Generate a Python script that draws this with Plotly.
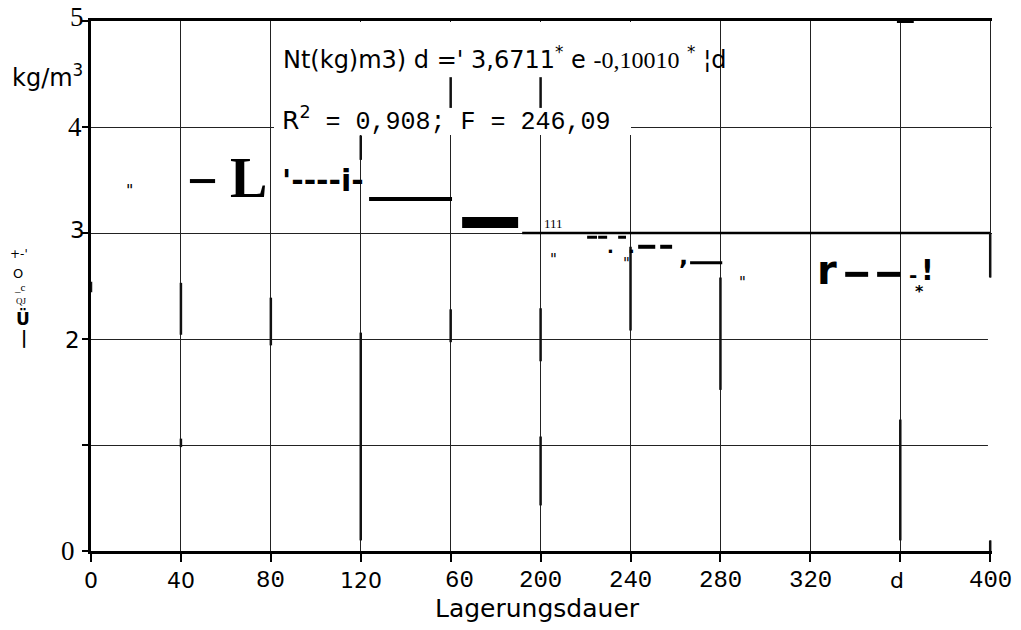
import plotly.graph_objects as go

# ---------------- data ----------------
x_ticks = [0, 40, 80, 120, 160, 200, 240, 280, 320, 360, 400]
x_tick_labels = ["0", "40", "80", "120", "60", "200", "240", "280", "320", "d", "400"]
x_tick_mono = [False, False, True, False, True, True, True, True, True, False, True]
y_ticks = [0, 1, 2, 3, 4, 5]
y_tick_labels = ["0", "", "2", "3", "4", "5"]
y_tick_serif = [True, False, False, False, True, True]

# horizontal pieces of the (scanned) fitted curve: days / kg per m3
bar_x0 = [44.0, 123.7, 165.1, 191.8, 220.7, 225.6, 234.5, 243.4, 253.2, 266.5, 335.5, 349.7, 358.5]
bar_x1 = [55.2, 160.6, 190.0, 400.0, 225.1, 229.6, 238.0, 251.0, 258.5, 280.8, 345.7, 360.0, 366.0]
bar_y = [3.49, 3.32, 3.10, 3.00, 2.96, 2.96, 2.96, 2.87, 2.87, 2.72, 2.61, 2.61, 5.00]
bar_w = [4, 4, 11, 2.5, 3, 3, 3, 4, 4, 3, 5, 5, 4]

# thicker vertical scan fragments on the grid lines
frag_x = [0, 40, 40, 80, 120, 120, 160, 160, 200, 200, 200, 240, 280, 360, 400, 400]
frag_y0 = [2.54, 2.53, 1.06, 2.39, 3.92, 2.06, 4.47, 2.28, 4.47, 2.29, 1.08, 2.87, 2.58, 1.24, 3.00, 0.10]
frag_y1 = [2.44, 2.04, 0.98, 1.94, 3.69, 0.10, 4.18, 1.97, 4.18, 1.79, 0.43, 2.08, 1.52, 0.10, 2.58, 0.00]

# ---------------- helpers ----------------
L, R, T, B = 91, 29, 21, 79
W, H = 1021, 630
X_MAX = 400.8
PW, PH = W - L - R, H - T - B
UX = PW / X_MAX


def px2x(px):
    return (px - L) / UX


def py2y(py):
    return (H - B - py) / PH * 5


SANS = "DejaVu Sans"
MONO = "Liberation Mono"
SERIF = "Liberation Serif"

fig = go.Figure()

for x0, x1, y, w in zip(bar_x0, bar_x1, bar_y, bar_w):
    fig.add_trace(go.Scatter(x=[x0, x1], y=[y, y], mode="lines",
                             line=dict(color="black", width=w),
                             showlegend=False, hoverinfo="skip"))

for x, y0, y1 in zip(frag_x, frag_y0, frag_y1):
    fig.add_trace(go.Scatter(x=[x, x], y=[y0, y1], mode="lines",
                             line=dict(color="#111", width=2.5),
                             showlegend=False, hoverinfo="skip"))

anns = []


def txt(text, px, py, size, family=SANS, anchor="center", color="black"):
    anns.append(dict(text=text, x=(px - L) / PW, y=(H - B - py) / PH,
                     xref="paper", yref="paper",
                     showarrow=False, xanchor=anchor, yanchor="middle",
                     font=dict(family=family, size=size, color=color)))


# tick labels
for v, lab, mono in zip(x_ticks, x_tick_labels, x_tick_mono):
    px = L + v * UX
    if lab == "60":
        px += 9
    if lab == "d":
        px -= 3
    txt(lab, px, 580, 24 if mono else 22, MONO if mono else SANS)

y_px = {0: 551, 2: 340, 3: 230, 4: 127, 5: 17}
y_cx = {0: 68, 2: 72, 3: 77, 4: 75, 5: 77}
for v, lab, serif in zip(y_ticks, y_tick_labels, y_tick_serif):
    if lab:
        txt(lab, y_cx[v], y_px[v], 27 if serif else 23, SERIF if serif else SANS)

# axis titles
txt("Lagerungsdauer", 537, 608, 25, SANS)
txt("kg/m<sup>3</sup>", 10, 76, 24, SANS, anchor="left")
txt("+-'", 19, 254, 12, SANS)
txt("O", 18, 273, 13, SANS)
txt("_c", 20, 287, 11, SERIF)
txt("QJ", 21, 301, 9, SERIF)
txt("<b>Ü</b>", 23, 318, 17, SANS)
txt("<b>|</b>", 24, 338, 17, SANS)

# regression text
txt("Nt(kg)m3) d =' 3,6711<sup>*</sup> e <span style='font-family:Liberation Serif'>-0,10010</span> "
    "<sup>*</sup> ¦d", 281, 58, 24, SANS, anchor="left")
txt("<span style='font-family:DejaVu Sans'>R<sup>2</sup></span> = 0,908; F = 246,09",
    280, 120, 25, MONO, anchor="left")

# scanned fragments of curve labels
txt('"', 129, 190, 16, SANS)
txt("<b>L</b>", 248, 178, 56, SERIF)
txt("<b>'----i-</b>", 280, 180, 30, SANS, anchor="left")
txt("111", 553, 223, 13, SERIF)
txt('"', 553, 260, 15, SANS)
txt("<b>.</b>", 610, 246, 18, SANS)
txt("<b>.</b>", 631, 246, 18, SANS)
txt('"', 626, 264, 15, SANS)
txt("<b>,</b>", 683, 256, 24, SANS)
txt('"', 742, 283, 15, SANS)
txt("<b>r</b>", 827, 270, 40, SANS)
txt("<b>-</b>", 913, 275, 20, SANS)
txt("<b>!</b>", 927, 270, 28, SANS)
txt("<b>*</b>", 919, 291, 16, SANS)

fig.update_layout(
    width=W, height=H,
    margin=dict(l=L, r=R, t=T, b=B),
    plot_bgcolor="white", paper_bgcolor="white",
    annotations=anns,
    shapes=[
        dict(type="rect", xref="x", yref="y", layer="between",
             x0=px2x(274), x1=px2x(631), y0=py2y(135), y1=4.99,
             fillcolor="white", line=dict(width=0)),
        dict(type="rect", xref="x", yref="y", layer="between",
             x0=399.0, x1=400.8, y0=0.1, y1=2.58,
             fillcolor="white", line=dict(width=0)),
    ],
    xaxis=dict(range=[0, X_MAX], tickvals=x_ticks, showticklabels=False,
               showgrid=True, gridcolor="#222", gridwidth=1,
               ticks="outside", ticklen=8, tickwidth=2, tickcolor="black",
               showline=True, linecolor="black", linewidth=2.5, zeroline=False,
               mirror=True),
    yaxis=dict(range=[0, 5], tickvals=y_ticks, showticklabels=False,
               showgrid=True, gridcolor="#222", gridwidth=1,
               ticks="outside", ticklen=6, tickwidth=1.5, tickcolor="black",
               showline=True, linecolor="black", linewidth=2.5, zeroline=False),
)

fig.write_html("out.html")
